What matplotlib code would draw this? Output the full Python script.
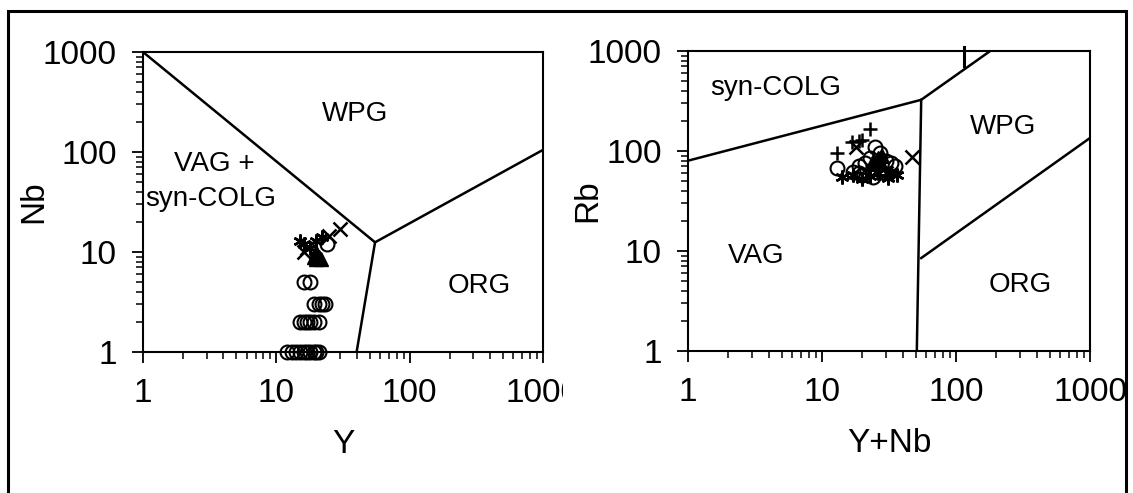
import matplotlib
matplotlib.use("Agg")
import matplotlib.pyplot as plt
from matplotlib.patches import Rectangle
from matplotlib.transforms import Bbox, TransformedBbox

plt.rcParams['font.family'] = ['Liberation Sans', 'DejaVu Sans']

# ---- Nb vs Y (left) ----
nb_bound_a_x = [1, 55]
nb_bound_a_y = [1000, 12.5]
nb_bound_b_x = [40, 55, 1000]
nb_bound_b_y = [1, 12.5, 105]

nb_circ_x = [12, 13, 14, 15, 16, 17, 18, 19, 20, 21, 15, 16, 17, 18, 19, 21, 19, 21, 22, 23, 16, 18, 24]
nb_circ_y = [1, 1, 1, 1, 1, 1, 1, 1, 1, 1, 2, 2, 2, 2, 2, 2, 3, 3, 3, 3, 5, 5, 12]
nb_cross_x = [16, 17, 30, 25]
nb_cross_y = [10, 11, 17, 14.5]
nb_ast_x = [15, 16, 20, 22, 18]
nb_ast_y = [13, 12, 13, 14, 11]
nb_tri_x = [19, 20, 21, 20, 21.5]
nb_tri_y = [9, 8.5, 9, 10, 8.5]

# ---- Rb vs Y+Nb (right) ----
rb_bound_a_x = [1, 55, 180]
rb_bound_a_y = [80, 325, 1000]
rb_bound_b_x = [51, 55]
rb_bound_b_y = [1, 325]
rb_bound_c_x = [55, 1000]
rb_bound_c_y = [8.5, 135]

rb_plus_x = [13, 16.7, 19, 23, 20]
rb_plus_y = [95, 122, 125, 165, 130]
rb_cross_x = [47, 18, 30]
rb_cross_y = [88, 110, 60]
rb_circ_x = [13, 17, 19, 21, 23, 25, 27, 30, 33, 35, 20, 24, 28, 19]
rb_circ_y = [68, 62, 70, 75, 85, 110, 95, 80, 75, 70, 58, 55, 62, 60]
rb_ast_x = [14, 17, 20, 23, 31, 36, 33, 26]
rb_ast_y = [55, 58, 53, 56, 54, 57, 60, 60]
rb_tri_x = [24, 26, 28, 25, 27]
rb_tri_y = [80, 85, 90, 75, 78]
rb_bar_x = [115, 115]
rb_bar_y = [700, 1100]

ticks = [1, 10, 100, 1000]
tick_labels = ['1', '10', '100', '1000']

fig = plt.figure(figsize=(11.33, 4.93), dpi=100)

# outer frame
fig.add_artist(Rectangle((8 / 1133, -0.05), 1118 / 1133, 1.05 - 11 / 493,
                         transform=fig.transFigure, fill=False,
                         edgecolor='black', linewidth=2.2, zorder=20))

ax1 = fig.add_axes([143 / 1133, 141 / 493, 400 / 1133, 300 / 493])
ax2 = fig.add_axes([688 / 1133, 142 / 493, 402 / 1133, 300 / 493])

for ax in (ax1, ax2):
    ax.set_xscale('log')
    ax.set_yscale('log')
    ax.set_xlim(1, 1000)
    ax.set_ylim(1, 1000)
    ax.set_xticks(ticks)
    ax.set_xticklabels(tick_labels)
    ax.set_yticks(ticks)
    ax.set_yticklabels(tick_labels)
    ax.tick_params(which='major', direction='out', length=8, width=1.3, labelsize=24)
    ax.tick_params(which='minor', direction='out', length=5, width=1.1)
    ax.tick_params(axis='x', which='major', pad=11)
    ax.tick_params(axis='y', which='major', pad=11)
    for s in ax.spines.values():
        s.set_linewidth(1.5)

mk = dict(linestyle='none', color='black', markersize=10, clip_on=False)

ax1.plot(nb_bound_a_x, nb_bound_a_y, color='black', lw=1.8)
ax1.plot(nb_bound_b_x, nb_bound_b_y, color='black', lw=1.8)
ax1.plot(nb_circ_x, nb_circ_y, marker='o', mfc='none', mew=1.5, **mk)
ax1.plot(nb_cross_x, nb_cross_y, marker='x', mew=1.8, **mk)
ax1.plot(nb_ast_x, nb_ast_y, marker=(6, 2, 0), mew=1.8, **mk)
ax1.plot(nb_tri_x, nb_tri_y, marker='^', **mk)

ax1.text(39, 240, 'WPG', fontsize=20, ha='center', va='center')
ax1.text(3.4, 76, 'VAG +', fontsize=20, ha='center', va='center')
ax1.text(3.2, 34, 'syn-COLG', fontsize=20, ha='center', va='center')
ax1.text(330, 4.6, 'ORG', fontsize=20, ha='center', va='center')
ax1.set_xlabel('Y', fontsize=24, labelpad=14)
ax1.set_ylabel('Nb', fontsize=24)
ax1.yaxis.set_label_coords(-0.235, 0.5)

ax2.plot(rb_bound_a_x, rb_bound_a_y, color='black', lw=1.8)
ax2.plot(rb_bound_b_x, rb_bound_b_y, color='black', lw=1.8)
ax2.plot(rb_bound_c_x, rb_bound_c_y, color='black', lw=1.8)
ax2.plot(rb_bar_x, rb_bar_y, color='black', lw=2.2, clip_on=False)
ax2.plot(rb_circ_x, rb_circ_y, marker='o', mfc='none', mew=1.5, **mk)
ax2.plot(rb_plus_x, rb_plus_y, marker='+', mew=1.8, **mk)
ax2.plot(rb_cross_x, rb_cross_y, marker='x', mew=1.8, **mk)
ax2.plot(rb_ast_x, rb_ast_y, marker=(6, 2, 0), mew=1.8, **mk)
ax2.plot(rb_tri_x, rb_tri_y, marker='^', **mk)

ax2.text(4.5, 427, 'syn-COLG', fontsize=20, ha='center', va='center')
ax2.text(224, 174, 'WPG', fontsize=20, ha='center', va='center')
ax2.text(3.2, 9, 'VAG', fontsize=20, ha='center', va='center')
ax2.text(300, 4.6, 'ORG', fontsize=20, ha='center', va='center')
ax2.set_xlabel('Y+Nb', fontsize=24, labelpad=14)
ax2.set_ylabel('Rb', fontsize=24)
ax2.yaxis.set_label_coords(-0.21, 0.5)

# the left panel's last x label is cut off in the original scan
clip = TransformedBbox(Bbox([[0, 0], [563 / 1133, 1]]), fig.transFigure)
lab = ax1.xaxis.get_major_ticks()[-1].label1
lab.set_clip_box(clip)
lab.set_clip_on(True)

fig.savefig('out.png', dpi=100, facecolor='white')
